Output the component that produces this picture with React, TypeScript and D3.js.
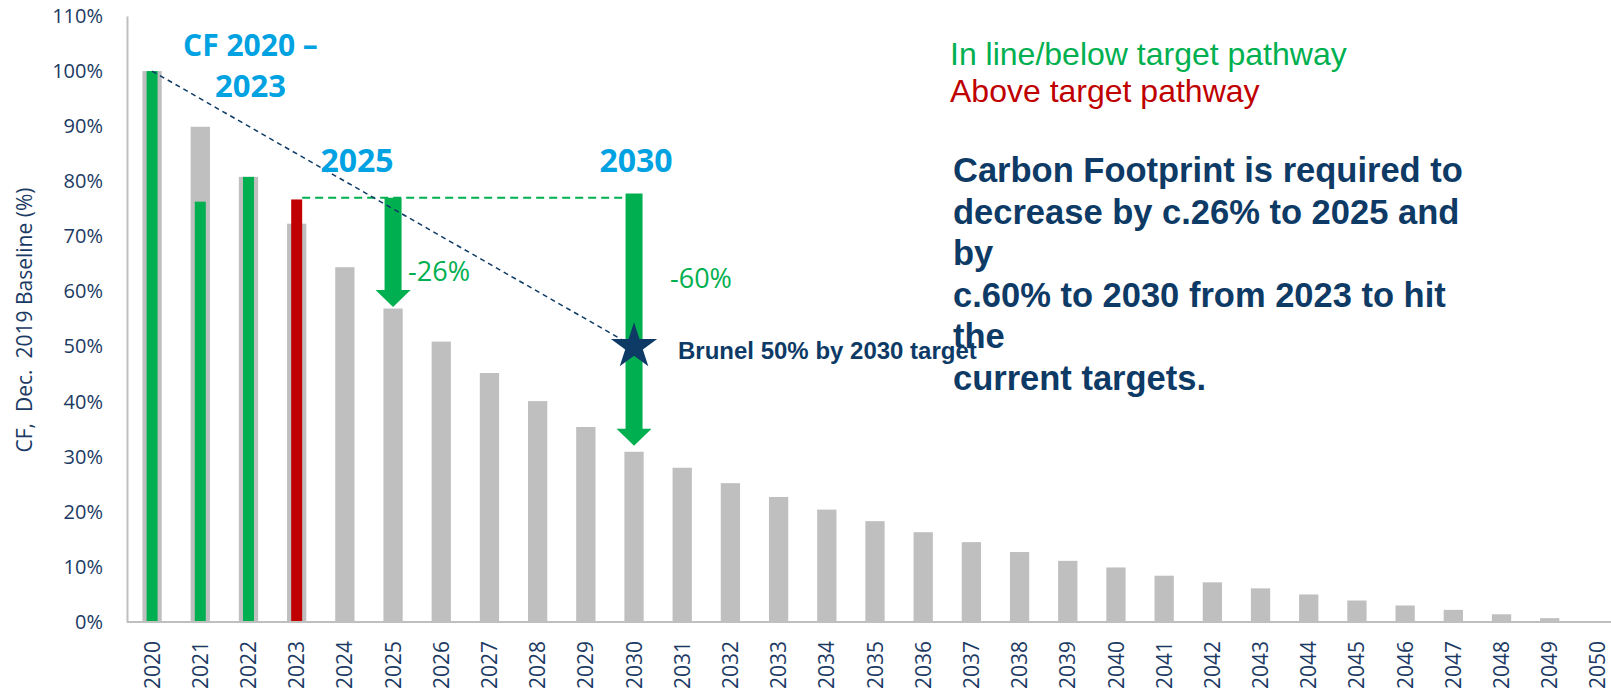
import { useEffect, useRef } from "react";
import * as d3 from "d3";

// categories and values
const years = [
  "2020", "2021", "2022", "2023", "2024", "2025", "2026", "2027", "2028", "2029",
  "2030", "2031", "2032", "2033", "2034", "2035", "2036", "2037", "2038", "2039",
  "2040", "2041", "2042", "2043", "2044", "2045", "2046", "2047", "2048", "2049",
  "2050",
];
const pathwayValues = [
  100, 89.9, 80.8, 72.3, 64.4, 56.9, 50.9, 45.2, 40.1, 35.4,
  30.9, 28.0, 25.2, 22.7, 20.4, 18.3, 16.3, 14.5, 12.7, 11.1,
  9.9, 8.4, 7.2, 6.1, 5.0, 3.9, 3.0, 2.2, 1.4, 0.7,
  0,
];
const actualYears = ["2020", "2021", "2022", "2023"];
const actualValues = [100, 76.3, 80.8, 76.7];
const actualOnTrack = [true, true, true, false];

const yTicks = [0, 10, 20, 30, 40, 50, 60, 70, 80, 90, 100, 110];

const targetYears = ["2020", "2030"];
const targetValues = [100, 50];

const refLineYears = ["2023", "2030"];
const refLineValue = 77;

const arrowYears = ["2025", "2030"];
const arrowFrom = [77, 77.8];
const arrowTo = [57.2, 32];
const arrowLabels = ["-26%", "-60%"];

const legendLabels = ["In line/below target pathway", "Above target pathway"];
const noteLines = [
  "Carbon Footprint is required to",
  "decrease by c.26% to 2025 and",
  "by",
  "c.60% to 2030 from 2023 to hit",
  "the",
  "current targets.",
];

const GREEN = "#00B050";
const RED = "#C00000";
const GREY = "#BFBFBF";
const NAVY = "#0E3A66";
const BLUE = "#00A2E1";
const TICK = "#1B3A63";
const CAL = "'Open Sans', sans-serif";
const ARIAL = "'Liberation Sans', Arial, sans-serif";

const width = 1611;
const height = 692;

export default function App() {
  const svgRef = useRef<SVGSVGElement>(null);

  useEffect(() => {
    if (!svgRef.current) return;
    const svg = d3.select(svgRef.current);
    svg.selectAll("*").remove();

    const x = d3
      .scaleBand<string>()
      .domain(years)
      .range([128, 1622])
      .paddingInner(0.6)
      .paddingOuter(0.3);
    const y = d3.scaleLinear().domain([0, 110]).range([622, 16]);
    const cx = (d: string) => (x(d) ?? 0) + x.bandwidth() / 2;

    // gray pathway bars
    svg.append("g")
      .selectAll("rect")
      .data(years)
      .join("rect")
      .attr("x", (d) => x(d) ?? 0)
      .attr("width", x.bandwidth())
      .attr("y", (_, i) => y(pathwayValues[i]))
      .attr("height", (_, i) => y(0) - y(pathwayValues[i]))
      .attr("fill", GREY);

    // actual footprint bars
    const innerW = x.bandwidth() * 0.57;
    svg.append("g")
      .selectAll("rect")
      .data(actualYears)
      .join("rect")
      .attr("x", (d) => cx(d) - innerW / 2)
      .attr("width", innerW)
      .attr("y", (_, i) => y(actualValues[i]))
      .attr("height", (_, i) => y(0) - y(actualValues[i]))
      .attr("fill", (_, i) => (actualOnTrack[i] ? GREEN : RED));

    // y axis
    svg.append("g")
      .attr("transform", `translate(127,0)`)
      .call(
        d3.axisLeft(y)
          .tickValues(yTicks)
          .tickFormat((d) => `${d}%`)
          .tickSize(0)
          .tickSizeOuter(0)
          .tickPadding(24)
      )
      .call((g) => g.select(".domain").attr("stroke", GREY).attr("stroke-width", 2))
      .call((g) =>
        g.selectAll("text")
          .attr("font-family", CAL)
          .attr("font-size", 20)
          .attr("fill", TICK)
      );

    // x axis
    svg.append("g")
      .attr("transform", `translate(0,${y(0)})`)
      .call(d3.axisBottom(x).tickSize(0).tickSizeOuter(0).tickFormat(() => ""))
      .call((g) => g.select(".domain").attr("stroke", GREY).attr("stroke-width", 2).attr("d", `M127,0H1622`));

    svg.append("g")
      .selectAll("text")
      .data(years)
      .join("text")
      .attr("transform", (d) => `translate(${cx(d)},641) rotate(-90)`)
      .attr("text-anchor", "end")
      .attr("dy", "0.36em")
      .attr("font-family", CAL)
      .attr("font-size", 21)
      .attr("fill", TICK)
      .text((d) => d);

    // y axis title
    svg.append("text")
      .attr("transform", `translate(32,320) rotate(-90)`)
      .attr("text-anchor", "middle")
      .attr("font-family", CAL)
      .attr("font-size", 21)
      .attr("fill", TICK)
      .style("white-space", "pre")
      .text("CF,  Dec.  2019 Baseline (%)");

    // green dashed reference line from 2023 level to 2030
    svg.append("line")
      .attr("x1", cx(refLineYears[0]) + innerW / 2)
      .attr("x2", cx(refLineYears[1]) - 8)
      .attr("y1", y(refLineValue))
      .attr("y2", y(refLineValue))
      .attr("stroke", GREEN)
      .attr("stroke-width", 2)
      .attr("stroke-dasharray", "8,5");

    // arrows
    const shaftW = 17;
    const headW = 35;
    const headL = 17;
    arrowYears.forEach((yr, i) => {
      const c = cx(yr);
      const top = y(arrowFrom[i]);
      const tip = y(arrowTo[i]);
      const base = tip - headL;
      const p = d3.path();
      p.moveTo(c - shaftW / 2, top);
      p.lineTo(c + shaftW / 2, top);
      p.lineTo(c + shaftW / 2, base);
      p.lineTo(c + headW / 2, base);
      p.lineTo(c, tip);
      p.lineTo(c - headW / 2, base);
      p.lineTo(c - shaftW / 2, base);
      p.closePath();
      svg.append("path").attr("d", p.toString()).attr("fill", GREEN);

      svg.append("text")
        .attr("x", c + (i === 0 ? 15 : 36))
        .attr("y", i === 0 ? 281 : 288)
        .attr("font-family", CAL)
        .attr("font-size", 27)
        .attr("fill", GREEN)
        .text(arrowLabels[i]);
    });

    // target pathway dashed line
    const line = d3
      .line<number>()
      .x((i) => cx(targetYears[i]))
      .y((i) => y(targetValues[i]));
    svg.append("path")
      .attr("d", line([0, 1]))
      .attr("fill", "none")
      .attr("stroke", NAVY)
      .attr("stroke-width", 1.5)
      .attr("stroke-dasharray", "5,4");

    // star
    svg.append("path")
      .attr("d", d3.symbol(d3.symbolStar, 663)())
      .attr("transform", `translate(${cx(targetYears[1])},${y(targetValues[1])})`)
      .attr("fill", NAVY);

    svg.append("text")
      .attr("x", 678)
      .attr("y", 359)
      .attr("font-family", ARIAL)
      .attr("font-weight", "bold")
      .attr("font-size", 24)
      .attr("fill", NAVY)
      .text("Brunel 50% by 2030 target");

    // blue headings
    const blue = (t: string, xx: number, yy: number, fs: number) =>
      svg.append("text")
        .attr("x", xx)
        .attr("y", yy)
        .attr("text-anchor", "middle")
        .attr("font-family", CAL)
        .attr("font-weight", "bold")
        .attr("font-size", fs)
        .attr("fill", BLUE)
        .text(t);
    blue("CF 2020 \u2013", cx("2022") + 2, 56, 30);
    blue("2023", cx("2022") + 2, 97, 31);
    blue("2025", cx("2025") - 36, 172, 32);
    blue("2030", cx("2030") + 2, 172, 32);

    // legend
    legendLabels.forEach((t, i) => {
      svg.append("text")
        .attr("x", 950)
        .attr("y", 65 + i * 37)
        .attr("font-family", ARIAL)
        .attr("font-size", 32)
        .attr("fill", i === 0 ? GREEN : RED)
        .text(t);
    });

    // note
    noteLines.forEach((t, i) => {
      svg.append("text")
        .attr("x", 953)
        .attr("y", 182 + i * 41.6)
        .attr("font-family", ARIAL)
        .attr("font-weight", "bold")
        .attr("font-size", 34.5)
        .attr("fill", NAVY)
        .text(t);
    });

    return () => {
      svg.selectAll("*").remove();
    };
  }, []);

  return (
    <svg
      ref={svgRef}
      width={width}
      height={height}
      viewBox={`0 0 ${width} ${height}`}
      style={{ position: "absolute", left: 0, top: 0, background: "#fff" }}
    />
  );
}
